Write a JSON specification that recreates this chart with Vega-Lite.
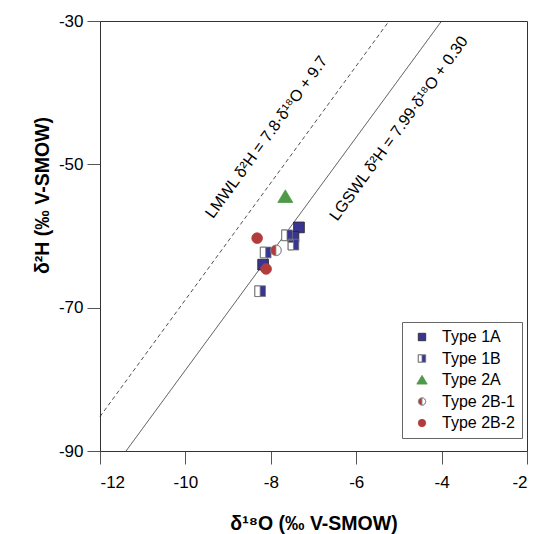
{
  "$schema": "https://vega.github.io/schema/vega-lite/v6.json",
  "width": 427,
  "height": 430,
  "autosize": {"type": "none"},
  "padding": {"left": 100, "top": 21, "right": 10, "bottom": 83},
  "background": "white",
  "config": {
    "font": "Liberation Sans",
    "view": {"stroke": "#333", "strokeWidth": 1},
    "axis": {
      "domainColor": "#333",
      "tickColor": "#555",
      "tickSize": 13,
      "labelFontSize": 17,
      "labelColor": "#000",
      "labelFont": "Liberation Sans",
      "titleFont": "Liberation Sans",
      "titleFontSize": 19.5,
      "titleFontWeight": "bold",
      "titleColor": "#000",
      "grid": false,
      "labelExpr": "'' + datum.value"
    }
  },
  "datasets": {
    "pts": [
      {"type": "Type 1A", "d18O": -7.34, "d2H": -58.8},
      {"type": "Type 1A", "d18O": -7.47, "d2H": -60.1},
      {"type": "Type 1A", "d18O": -8.18, "d2H": -64.0},
      {"type": "Type 1B", "d18O": -7.62, "d2H": -59.9},
      {"type": "Type 1B", "d18O": -7.47, "d2H": -61.2},
      {"type": "Type 1B", "d18O": -8.12, "d2H": -62.3},
      {"type": "Type 1B", "d18O": -8.25, "d2H": -67.7},
      {"type": "Type 2A", "d18O": -7.66, "d2H": -54.5},
      {"type": "Type 2B-1", "d18O": -7.88, "d2H": -62.0},
      {"type": "Type 2B-2", "d18O": -8.32, "d2H": -60.3},
      {"type": "Type 2B-2", "d18O": -8.11, "d2H": -64.6}
    ],
    "lines": [
      {"line": "LMWL", "x": -12, "y": -85.2},
      {"line": "LMWL", "x": -5.23, "y": -30},
      {"line": "LGSWL", "x": -11.39, "y": -90},
      {"line": "LGSWL", "x": -4.0, "y": -30}
    ],
    "labels": [
      {"label": "LMWL δ²H = 7.8·δ¹⁸O + 9.7", "x": -8.1, "y": -46.2},
      {"label": "LGSWL δ²H = 7.99·δ¹⁸O + 0.30", "x": -5.0, "y": -45.0}
    ]
  },
  "layer": [
    {
      "data": {"name": "lines"},
      "mark": {"type": "line", "strokeWidth": 0.8, "color": "#222"},
      "encoding": {
        "x": {
          "field": "x", "type": "quantitative",
          "scale": {"domain": [-12, -2], "nice": false, "zero": false},
          "axis": {"values": [-12, -10, -8, -6, -4, -2], "labelPadding": 10, "titlePadding": 24, "title": "δ¹⁸O (‰ V-SMOW)"}
        },
        "y": {
          "field": "y", "type": "quantitative",
          "scale": {"domain": [-90, -30], "nice": false, "zero": false},
          "axis": {"values": [-90, -70, -50, -30], "labelPadding": 4, "title": "δ²H (‰ V-SMOW)", "titleX": -58, "titleY": 174, "titleBaseline": "middle", "titleAlign": "center", "titleAngle": 270}
        },
        "detail": {"field": "line"},
        "strokeDash": {
          "field": "line", "type": "nominal",
          "scale": {"domain": ["LMWL", "LGSWL"], "range": [[4, 3], [1, 0]]},
          "legend": null
        }
      }
    },
    {
      "data": {"name": "labels"},
      "mark": {"type": "text", "angle": 306, "fontSize": 16, "color": "#000"},
      "encoding": {
        "x": {"field": "x", "type": "quantitative"},
        "y": {"field": "y", "type": "quantitative"},
        "text": {"field": "label"}
      }
    },
    {
      "data": {"name": "pts"},
      "transform": [{"filter": "datum.type === 'Type 1B'"}],
      "mark": {"type": "square", "filled": true, "color": "white", "size": 115, "opacity": 1},
      "encoding": {
        "x": {"field": "d18O", "type": "quantitative"},
        "y": {"field": "d2H", "type": "quantitative"}
      }
    },
    {
      "data": {"name": "pts"},
      "transform": [{"filter": "datum.type === 'Type 2B-1'"}],
      "mark": {"type": "circle", "filled": true, "color": "white", "size": 115, "opacity": 1},
      "encoding": {
        "x": {"field": "d18O", "type": "quantitative"},
        "y": {"field": "d2H", "type": "quantitative"}
      }
    },
    {
      "data": {"name": "pts"},
      "mark": {"type": "point", "filled": true, "size": 115, "strokeWidth": 0.8, "opacity": 1},
      "encoding": {
        "x": {"field": "d18O", "type": "quantitative"},
        "y": {"field": "d2H", "type": "quantitative"},
        "shape": {
          "field": "type", "type": "nominal",
          "scale": {
            "domain": ["Type 1A", "Type 1B", "Type 2A", "Type 2B-1", "Type 2B-2"],
            "range": [
              "square",
              "M-1,-1L1,-1L1,1L-1,1Z M-1,-1L-1,1L0,1L0,-1Z",
              "M0,-1.25L1.4,1.1L-1.4,1.1Z",
              "M0,-1A1,1 0 0,1 0,1A1,1 0 0,1 0,-1Z M0,1A1,1 0 0,0 0,-1Z",
              "circle"
            ]
          },
          "legend": {
            "title": null,
            "orient": "none",
            "legendX": 302,
            "legendY": 301,
            "fillColor": "white",
            "strokeColor": "#666",
            "padding": 7,
            "labelFontSize": 16,
            "labelColor": "#000",
            "symbolSize": 55,
            "symbolOffset": 5,
            "rowPadding": 5.5,
            "labelOffset": 12,
            "symbolStrokeWidth": 0.8
          }
        },
        "fill": {
          "field": "type", "type": "nominal",
          "scale": {
            "domain": ["Type 1A", "Type 1B", "Type 2A", "Type 2B-1", "Type 2B-2"],
            "range": ["#3b3592", "#3b3592", "#4f9a4a", "#b23b3b", "#b23b3b"]
          }
        },
        "stroke": {
          "field": "type", "type": "nominal",
          "scale": {
            "domain": ["Type 1A", "Type 1B", "Type 2A", "Type 2B-1", "Type 2B-2"],
            "range": ["#222222", "#777777", "#4f9a4a", "#888888", "#b23b3b"]
          }
        }
      }
    }
  ]
}
